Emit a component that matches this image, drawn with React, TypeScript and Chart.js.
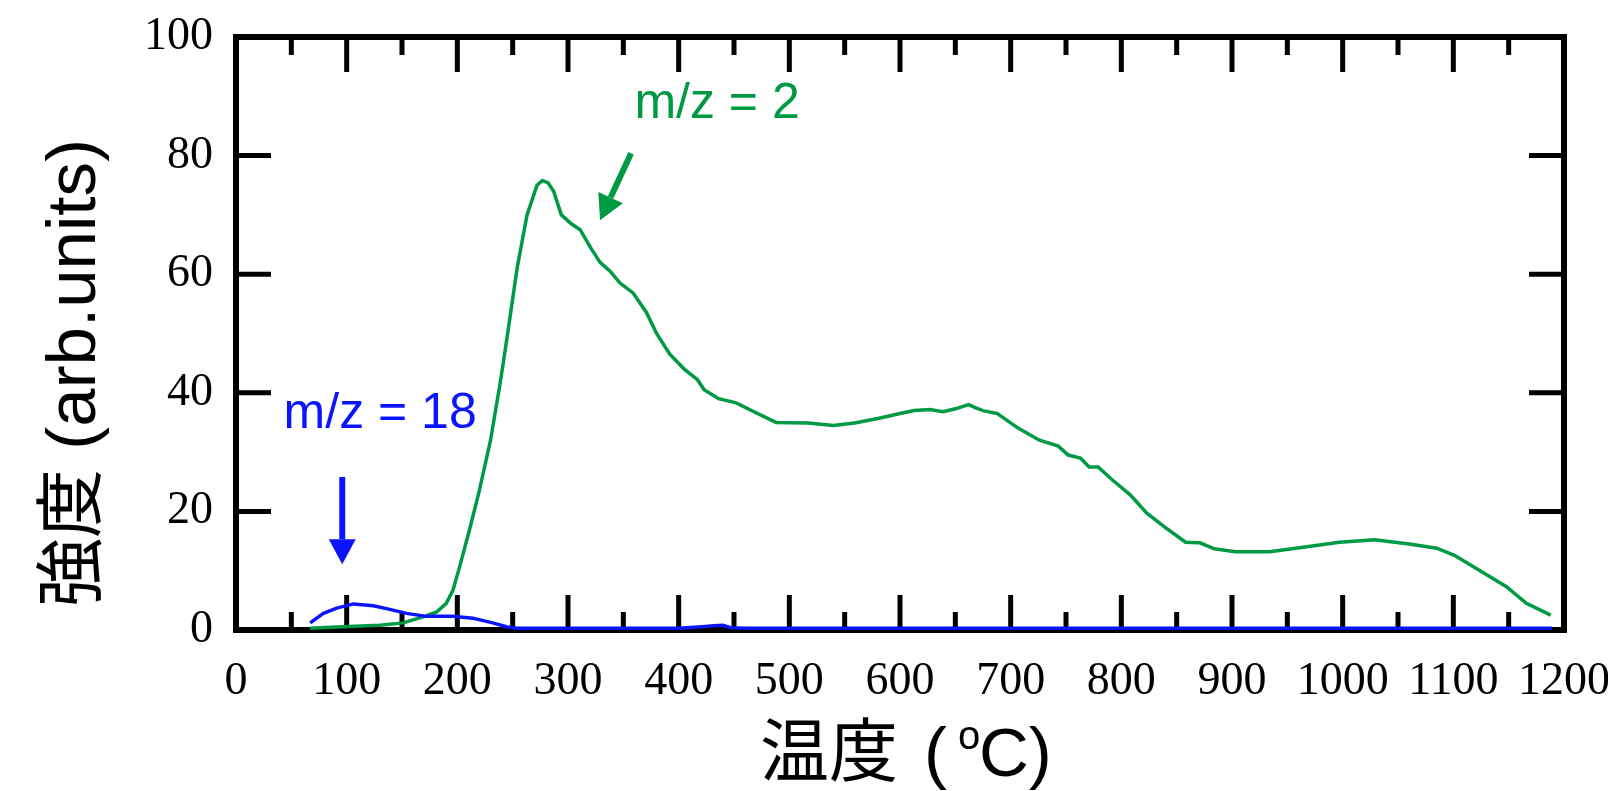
import React, { useEffect, useRef } from 'react';
import { Chart, registerables } from 'chart.js';

Chart.register(...registerables);

// m/z = 2 (green) — temperature (°C) and intensity (arb. units)
const h2Temps = [67, 91, 130, 151, 169, 181, 190, 196, 202, 211, 220, 230, 239, 245, 254, 263, 272, 277, 282, 287, 294, 303, 311, 320, 329, 338, 347, 359, 371, 380, 392, 405, 417, 423, 436, 452, 468, 488, 517, 540, 559, 581, 600, 613, 627, 639, 650, 662, 668, 675, 688, 707, 726, 743, 752, 763, 771, 779, 792, 808, 823, 839, 858, 871, 884, 903, 934, 966, 997, 1029, 1060, 1085, 1101, 1123, 1148, 1166, 1188];
const h2Intensity = [0.3, 0.5, 0.8, 1.2, 2.2, 3, 4.5, 6.7, 10.6, 16.9, 23.6, 32, 42, 49.4, 61, 70, 75, 75.8, 75.4, 74, 70, 68.5, 67.5, 64.6, 62, 60.5, 58.5, 56.8, 53.5, 50, 46.5, 44, 42.2, 40.5, 39, 38.3, 36.8, 35, 34.9, 34.5, 34.9, 35.7, 36.5, 37, 37.2, 36.8, 37.3, 38, 37.5, 37, 36.5, 34, 32, 31, 29.5, 29, 27.5, 27.5, 25.3, 22.8, 19.7, 17.4, 14.8, 14.7, 13.7, 13.2, 13.2, 14, 14.8, 15.2, 14.5, 13.8, 12.6, 10.1, 7.3, 4.5, 2.5];

// m/z = 18 (blue)
const h2oTemps = [67, 79, 91, 106, 124, 136, 154, 172, 196, 214, 232, 245, 254, 300, 400, 418, 432, 440, 447, 460, 600, 800, 1000, 1189];
const h2oIntensity = [1.2, 2.8, 3.7, 4.4, 4.1, 3.6, 2.8, 2.3, 2.3, 2.0, 1.2, 0.5, 0.3, 0.3, 0.3, 0.5, 0.7, 0.8, 0.4, 0.3, 0.3, 0.3, 0.3, 0.3];

const xTickRange = [0, 1200];
const xMajorStep = 100;
const xMinorStep = 50;
const yTickRange = [0, 100];
const yMajorStep = 20;

const xTitleParts = ['温度', '(', 'o', 'C)'];
const yTitle = '強度 (arb.units)';
const h2Label = 'm/z = 2';
const h2oLabel = 'm/z = 18';

const GREEN = '#009944';
const BLUE = '#0a14ff';
const SANS = "'Liberation Sans', Arial, 'Noto Sans CJK JP', sans-serif";
const SERIF = "'Liberation Serif', 'Times New Roman', serif";

function drawArrow(ctx: CanvasRenderingContext2D, x1: number, y1: number, x2: number, y2: number, color: string) {
  const headLen = 25;
  const headW = 27;
  const ang = Math.atan2(y2 - y1, x2 - x1);
  const bx = x2 - headLen * Math.cos(ang);
  const by = y2 - headLen * Math.sin(ang);
  ctx.save();
  ctx.strokeStyle = color;
  ctx.fillStyle = color;
  ctx.lineWidth = 6;
  ctx.beginPath();
  ctx.moveTo(x1, y1);
  ctx.lineTo(bx, by);
  ctx.stroke();
  ctx.beginPath();
  ctx.moveTo(x2, y2);
  ctx.lineTo(bx + (headW / 2) * Math.sin(ang), by - (headW / 2) * Math.cos(ang));
  ctx.lineTo(bx - (headW / 2) * Math.sin(ang), by + (headW / 2) * Math.cos(ang));
  ctx.closePath();
  ctx.fill();
  ctx.restore();
}

const framePlugin = {
  id: 'frameTicks',
  beforeDatasetsDraw(chart: any) {
    const { ctx, chartArea: a, scales } = chart;
    const x = scales.x;
    const y = scales.y;
    ctx.save();
    ctx.strokeStyle = '#000';
    ctx.lineWidth = 5;
    ctx.lineCap = 'butt';
    const seg = (x1: number, y1: number, x2: number, y2: number) => {
      ctx.beginPath();
      ctx.moveTo(x1, y1);
      ctx.lineTo(x2, y2);
      ctx.stroke();
    };
    for (let v = xTickRange[0] + xMinorStep; v < xTickRange[1]; v += xMinorStep) {
      const px = x.getPixelForValue(v);
      const len = v % xMajorStep === 0 ? 35 : 18;
      seg(px, a.bottom, px, a.bottom - len);
      seg(px, a.top, px, a.top + len);
    }
    for (let v = yTickRange[0] + yMajorStep; v < yTickRange[1]; v += yMajorStep) {
      const py = y.getPixelForValue(v);
      seg(a.left, py, a.left + 35, py);
      seg(a.right, py, a.right - 35, py);
    }
    ctx.lineWidth = 6;
    ctx.lineJoin = 'miter';
    ctx.strokeRect(a.left, a.top, a.right - a.left, a.bottom - a.top);
    ctx.restore();
  },
};

const annotationPlugin = {
  id: 'annotations',
  afterDatasetsDraw(chart: any) {
    const { ctx, scales } = chart;
    const x = scales.x;
    const y = scales.y;
    ctx.save();
    // m/z = 18
    ctx.fillStyle = BLUE;
    ctx.font = `50px ${SANS}`;
    ctx.textAlign = 'left';
    ctx.textBaseline = 'alphabetic';
    ctx.fillText(h2oLabel, x.getPixelForValue(43), y.getPixelForValue(34));
    drawArrow(ctx, x.getPixelForValue(96), y.getPixelForValue(25.8), x.getPixelForValue(96), y.getPixelForValue(11.1), BLUE);
    // m/z = 2
    ctx.fillStyle = GREEN;
    ctx.font = `50px ${SANS}`;
    ctx.fillText(h2Label, x.getPixelForValue(360), y.getPixelForValue(86.3));
    drawArrow(ctx, x.getPixelForValue(357), y.getPixelForValue(80.4), x.getPixelForValue(329), y.getPixelForValue(69.1), GREEN);
    ctx.restore();
  },
  afterDraw(chart: any) {
    const { ctx } = chart;
    ctx.save();
    ctx.fillStyle = '#000';
    ctx.textBaseline = 'alphabetic';
    ctx.textAlign = 'left';
    const big = `69px ${SANS}`;
    const small = `40px ${SANS}`;
    const base = 776;
    // x title: 温度 (ºC) with superscript o
    ctx.font = big;
    ctx.fillText(xTitleParts[0], 760, base);
    ctx.fillText(xTitleParts[1], 924, base);
    ctx.font = small;
    ctx.fillText(xTitleParts[2], 958, base - 27);
    ctx.font = big;
    ctx.fillText(xTitleParts[3], 979, base);
    // y title
    ctx.translate(95, 373);
    ctx.rotate(-Math.PI / 2);
    ctx.textAlign = 'center';
    ctx.font = big;
    ctx.fillText(yTitle, 0, 0);
    ctx.restore();
  },
};

const PAD = { left: 0, top: 37, right: 44, bottom: 0 };
const Y_AXIS_WIDTH = 236;
const X_AXIS_HEIGHT = 161;

function fitAxis(scale: any) {
  if (scale.isHorizontal()) scale.height = X_AXIS_HEIGHT;
  else scale.width = Y_AXIS_WIDTH;
  scale.paddingLeft = 0;
  scale.paddingRight = 0;
  scale.paddingTop = 0;
  scale.paddingBottom = 0;
}

const plainLabel = (v: any) => String(v);

export default function App() {
  const ref = useRef<HTMLCanvasElement | null>(null);
  useEffect(() => {
    if (!ref.current) return;
    const chart = new Chart(ref.current, {
      type: 'line',
      data: {
        datasets: [
          {
            label: h2oLabel,
            data: h2oTemps.map((t, i) => ({ x: t, y: h2oIntensity[i] })),
            borderColor: BLUE,
            borderWidth: 3.5,
            pointRadius: 0,
            tension: 0,
            clip: false as any,
          },
          {
            label: h2Label,
            data: h2Temps.map((t, i) => ({ x: t, y: h2Intensity[i] })),
            borderColor: GREEN,
            borderWidth: 3.5,
            pointRadius: 0,
            tension: 0,
            clip: false as any,
          },
        ],
      },
      options: {
        responsive: false,
        animation: false,
        layout: { padding: PAD },
        plugins: { legend: { display: false }, tooltip: { enabled: false } },
        scales: {
          x: {
            type: 'linear',
            min: xTickRange[0],
            max: xTickRange[1],
            border: { display: false },
            grid: { display: false, drawTicks: false },
            ticks: {
              stepSize: xMajorStep,
              autoSkip: false,
              maxRotation: 0,
              padding: 24,
              color: '#000',
              font: { family: SERIF, size: 46 },
              callback: plainLabel,
            },
            afterFit: fitAxis,
          },
          y: {
            type: 'linear',
            min: yTickRange[0],
            max: yTickRange[1],
            border: { display: false },
            grid: { display: false, drawTicks: false },
            ticks: {
              stepSize: yMajorStep,
              autoSkip: false,
              padding: 23,
              color: '#000',
              font: { family: SERIF, size: 46 },
              callback: plainLabel,
            },
            afterFit: fitAxis,
          },
        },
      },
      plugins: [framePlugin, annotationPlugin],
    });
    return () => chart.destroy();
  }, []);
  return (
    <canvas
      ref={ref}
      width={1608}
      height={791}
      style={{ position: 'fixed', left: 0, top: 0, width: 1608, height: 791, display: 'block', background: '#fff' }}
    />
  );
}
